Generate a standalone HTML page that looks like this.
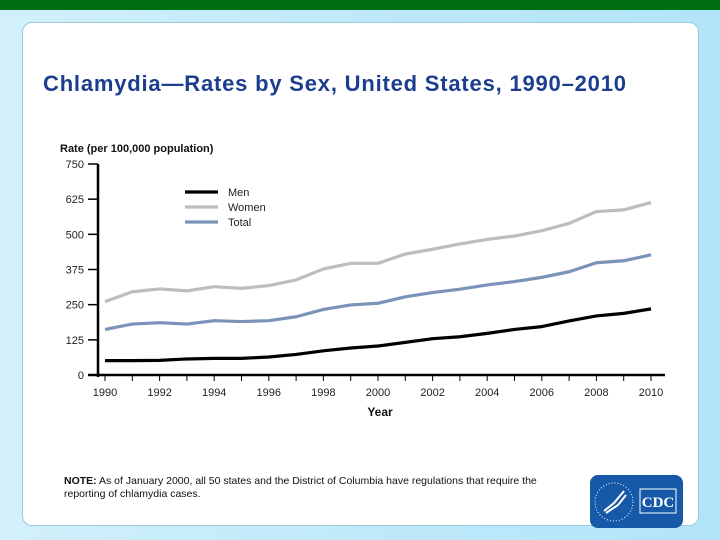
<!DOCTYPE html>
<html><head><meta charset="utf-8"><style>
body{margin:0;width:720px;height:540px;overflow:hidden;font-family:"Liberation Sans",sans-serif;background:linear-gradient(90deg,#d2f0fb,#bfe9fa 50%,#b2e4f8);position:relative}
#top{position:absolute;left:0;top:0;width:720px;height:10px;background:#006f12}
#panel{position:absolute;left:22px;top:22px;width:675px;height:502px;background:#fff;border:1px solid #9cc9dc;border-radius:10px}
#title{position:absolute;left:43px;top:71px;font-size:22px;font-weight:bold;color:#1c3e8e;letter-spacing:0.8px;white-space:nowrap}
#note{position:absolute;left:64px;top:475px;font-size:10.5px;color:#111;line-height:13px;width:490px}
#logo{position:absolute;left:590px;top:475px;width:93px;height:53px;background:#1659a8;border-radius:8px}
</style></head><body>
<div id="top"></div>
<div id="panel"></div>
<div id="title">Chlamydia—Rates by Sex, United States, 1990–2010</div>
<svg id="chart" width="720" height="540" style="position:absolute;left:0;top:0"></svg>
<div id="note"><b>NOTE:</b> As of January 2000, all 50 states and the District of Columbia have regulations that require the reporting of chlamydia cases.</div>
<div id="logo">
<svg width="93" height="53"><circle cx="24" cy="27" r="19" fill="none" stroke="#fff" stroke-width="1" stroke-dasharray="1 2"/><path d="M14 36 L24 28 L34 16 M16 38 L28 30 L36 20" stroke="#fff" stroke-width="2" fill="none"/><rect x="50" y="14" width="36" height="24" fill="none" stroke="#fff"/><text x="68" y="32" fill="#fff" font-size="15" font-weight="bold" text-anchor="middle" font-family="Liberation Serif">CDC</text></svg></div>
<script>
const years=[1990,1991,1992,1993,1994,1995,1996,1997,1998,1999,2000,2001,2002,2003,2004,2005,2006,2007,2008,2009,2010];
const women=[261,296,306,299,314,308,318,338,377,397,397,430,447,466,482,494,513,539,581,587,613];
const total=[162,181,186,181,193,190,193,207,233,249,255,278,293,305,320,332,347,367,399,406,427];
const men=[51,51,52,57,59,59,64,73,86,96,103,116,129,136,148,162,172,192,210,219,235];
const yTicks=[0,125,250,375,500,625,750];
const xTickYears=[1990,1992,1994,1996,1998,2000,2002,2004,2006,2008,2010];
const svg=document.getElementById('chart');const NS='http://www.w3.org/2000/svg';
const X=y=>105+(y-1990)*(651-105)/20;const Y=v=>375-v*(375-164)/750;
function mk(t,a){const e=document.createElementNS(NS,t);for(const k in a)e.setAttribute(k,a[k]);svg.appendChild(e);return e;}
let e=mk('line',{x1:98,y1:164,x2:98,y2:377,stroke:'#000','stroke-width':2.5});

e=mk('line',{x1:88,y1:375,x2:665,y2:375,stroke:'#000','stroke-width':2.5});

yTicks.forEach(v=>{mk('line',{x1:88,y1:Y(v),x2:98,y2:Y(v),stroke:'#000','stroke-width':1.5});
e=mk('text',{x:84,y:Y(v)+4,'font-size':11,'text-anchor':'end',fill:'#222'});e.textContent=v;
});
years.forEach(y=>mk('line',{x1:X(y),y1:375,x2:X(y),y2:381,stroke:'#000','stroke-width':1}));
xTickYears.forEach(y=>{e=mk('text',{x:X(y),y:396,'font-size':11,'text-anchor':'middle',fill:'#222'});e.textContent=y;
});
e=mk('text',{x:380,y:416,'font-size':12,'font-weight':'bold','text-anchor':'middle',fill:'#111'});e.textContent='Year';

e=mk('text',{x:60,y:152,'font-size':11,'font-weight':'bold',fill:'#111'});e.textContent='Rate (per 100,000 population)';

const series=[['women',women,'#bdbdbd'],['total',total,'#7b93b8'],['men',men,'#000']];
series.forEach(s=>{e=mk('polyline',{points:years.map((y,i)=>X(y)+','+Y(s[1][i])).join(' '),fill:'none',stroke:s[2],'stroke-width':3.2,'stroke-linejoin':'round'});
});
[['Men','#000',192],['Women','#bdbdbd',207],['Total','#7b93b8',222]].forEach(l=>{
mk('line',{x1:185,y1:l[2],x2:218,y2:l[2],stroke:l[1],'stroke-width':3.2});
e=mk('text',{x:228,y:l[2]+4,'font-size':11,fill:'#222'});e.textContent=l[0];
});
</script>
</body></html>
